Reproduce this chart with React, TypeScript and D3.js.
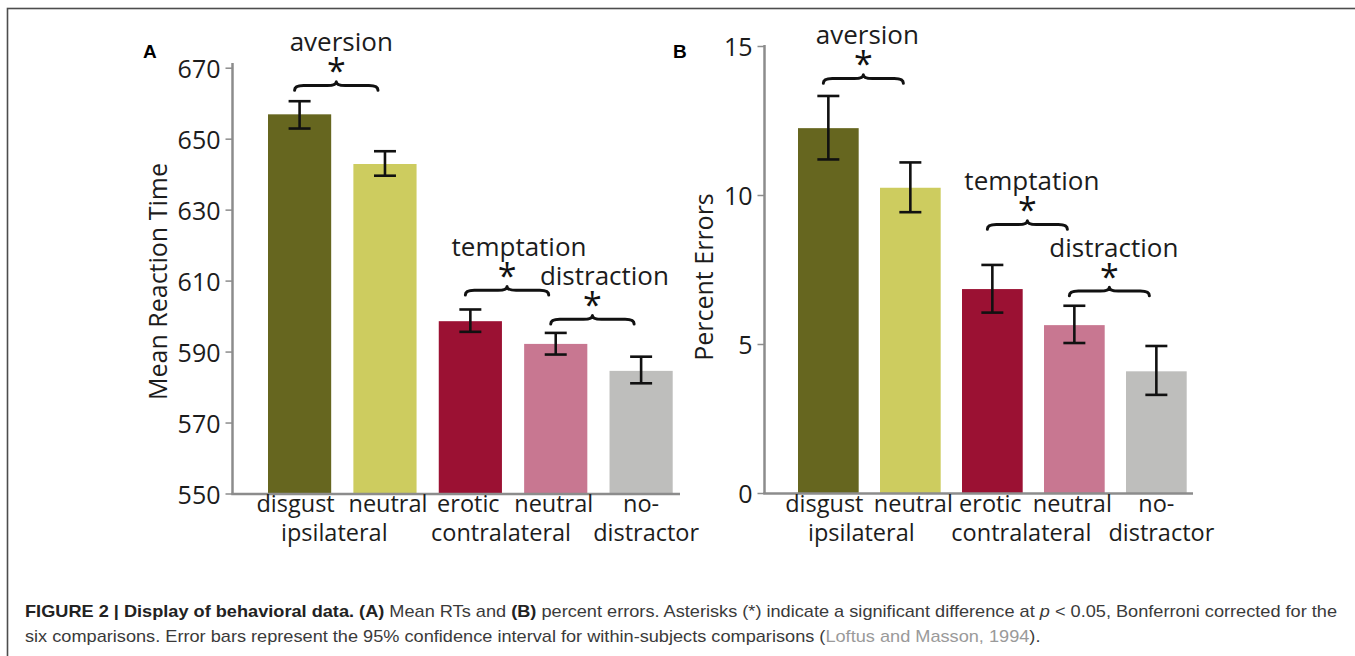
import React, { useLayoutEffect, useRef, useState } from "react";
import * as d3 from "d3";

// ---------- data ----------
const conditionIds = ["disgust-ipsi", "neutral-ipsi", "erotic-contra", "neutral-contra", "no-distractor"];
const categoryLabels = ["disgust", "neutral", "erotic", "neutral", "no-"];
const groupLabels = [
  { label: "ipsilateral", from: 0, to: 1 },
  { label: "contralateral", from: 2, to: 3 },
  { label: "distractor", from: 4, to: 4 },
];
const barColors = ["#66661f", "#cdcc5f", "#9b1133", "#c87791", "#bebebc"];

const rtMeans = [657, 643, 598.7, 592.3, 584.7];
const rtLower = [653, 639.7, 595.7, 589.3, 581.2];
const rtUpper = [660.7, 646.6, 602, 595.4, 588.7];
const rtTicks = [550, 570, 590, 610, 630, 650, 670];
const rtDomain = [550, 670];

const errMeans = [12.26, 10.26, 6.86, 5.65, 4.1];
const errLower = [11.21, 9.44, 6.07, 5.05, 3.31];
const errUpper = [13.34, 11.11, 7.67, 6.3, 4.95];
const errTicks = [0, 5, 10, 15];
const errDomain = [0, 15];

const rtComparisons = [
  { label: "aversion", from: 0, to: 1, at: 663.8 },
  { label: "temptation", from: 2, to: 3, at: 606.1 },
  { label: "distraction", from: 3, to: 4, at: 597.9 },
];
const errComparisons = [
  { label: "aversion", from: 0, to: 1, at: 13.77 },
  { label: "temptation", from: 2, to: 3, at: 8.87 },
  { label: "distraction", from: 3, to: 4, at: 6.64 },
];

// ---------- layout ----------
const FONT = "'Open Sans', 'Noto Sans', sans-serif";
const AXIS_COLOR = "#8c8c8c";
const TEXT_COLOR = "#1c1c1c";
const categoryLabelDx = [-4, 3, -2, -2, 0];
const groupLabelDx = [-8, -12, 5];

type Panel = {
  letter: string;
  letterX: number;
  title: string;
  titleX: number;
  titleY: number;
  means: number[];
  lower: number[];
  upper: number[];
  ticks: number[];
  domain: number[];
  yRange: [number, number];
  xRange: [number, number];
  axisX: number;
  axisXEnd: number;
  axisTop: number;
  labelDx: number[];
  comparisons: { label: string; from: number; to: number; at: number }[];
};

const panels: Panel[] = [
  {
    letter: "A",
    letterX: 143,
    title: "Mean Reaction Time",
    titleX: 167,
    titleY: 281.5,
    means: rtMeans,
    lower: rtLower,
    upper: rtUpper,
    ticks: rtTicks,
    domain: rtDomain,
    yRange: [494, 68.2],
    xRange: [268, 672.7],
    axisX: 232.5,
    axisXEnd: 680,
    axisTop: 63,
    labelDx: [5, 12, 12],
    comparisons: rtComparisons,
  },
  {
    letter: "B",
    letterX: 673,
    title: "Percent Errors",
    titleX: 713,
    titleY: 277,
    means: errMeans,
    lower: errLower,
    upper: errUpper,
    ticks: errTicks,
    domain: errDomain,
    yRange: [493.5, 46.5],
    xRange: [798, 1186.7],
    axisX: 764.5,
    axisXEnd: 1193,
    axisTop: 45,
    labelDx: [4, 4.5, 4.5],
    comparisons: errComparisons,
  },
];

function bracePath(x1: number, x2: number, yEnd: number, h: number) {
  const xm = (x1 + x2) / 2;
  const ym = yEnd - h * 0.55;
  const peak = yEnd - h;
  const q = 9;
  return [
    `M${x1},${yEnd}`,
    `Q${x1},${ym} ${x1 + q},${ym}`,
    `L${xm - q},${ym}`,
    `Q${xm},${ym} ${xm},${peak}`,
    `Q${xm},${ym} ${xm + q},${ym}`,
    `L${x2 - q},${ym}`,
    `Q${x2},${ym} ${x2},${yEnd}`,
  ].join(" ");
}

function ChartPanel({ p }: { p: Panel }) {
  const idx = d3.range(conditionIds.length);
  const x = d3.scaleBand<number>().domain(idx).range(p.xRange).paddingInner(0.26).paddingOuter(0);
  const y = d3.scaleLinear().domain(p.domain).range(p.yRange);
  const bw = x.bandwidth();
  const cx = (i: number) => (x(i) as number) + bw / 2;
  const y0 = y(p.domain[0]);
  return (
    <g>
      <text x={p.letterX} y={57.5} fontFamily="'Liberation Sans', Arial, sans-serif" fontWeight="bold" fontSize={19} fill="#000">
        {p.letter}
      </text>
      {/* bars */}
      {idx.map((i) => (
        <rect key={conditionIds[i]} x={x(i)} y={y(p.means[i])} width={bw} height={y0 - y(p.means[i])} fill={barColors[i]} />
      ))}
      {/* axes */}
      <line x1={p.axisX} x2={p.axisX} y1={p.axisTop} y2={y0} stroke={AXIS_COLOR} strokeWidth={2.5} />
      <line x1={p.axisX - 1.25} x2={p.axisXEnd} y1={y0} y2={y0} stroke={AXIS_COLOR} strokeWidth={2.5} />
      {p.ticks.map((t) => (
        <g key={t}>
          <line x1={p.axisX - 7} x2={p.axisX} y1={y(t)} y2={y(t)} stroke={AXIS_COLOR} strokeWidth={1.5} />
          <text x={p.axisX - 12} y={y(t) + 9.5} textAnchor="end" fontFamily={FONT} fontSize={25} fill={TEXT_COLOR}>
            {t}
          </text>
        </g>
      ))}
      <text
        transform={`translate(${p.titleX},${p.titleY}) rotate(-90)`}
        textAnchor="middle"
        fontFamily={FONT}
        fontSize={25}
        fill={TEXT_COLOR}
      >
        {p.title}
      </text>
      {/* error bars */}
      {idx.map((i) => {
        const c = cx(i);
        const yt = y(p.upper[i]);
        const yb = y(p.lower[i]);
        return (
          <g key={"e" + i} stroke="#111" strokeWidth={2.6} fill="none">
            <line x1={c} x2={c} y1={yt} y2={yb} />
            <line x1={c - 11} x2={c + 11} y1={yt} y2={yt} />
            <line x1={c - 11} x2={c + 11} y1={yb} y2={yb} />
          </g>
        );
      })}
      {/* category labels */}
      {idx.map((i) => (
        <text
          key={"c" + i}
          x={cx(i) + categoryLabelDx[i]}
          y={512}
          textAnchor="middle"
          fontFamily={FONT}
          fontSize={23.5}
          fill={TEXT_COLOR}
        >
          {categoryLabels[i]}
        </text>
      ))}
      {groupLabels.map((g, gi) => {
        const c = (cx(g.from) + cx(g.to)) / 2 + groupLabelDx[gi];
        return (
          <text key={g.label} x={c} y={541} textAnchor="middle" fontFamily={FONT} fontSize={23.5} fill={TEXT_COLOR}>
            {g.label}
          </text>
        );
      })}
      {/* significance annotations */}
      {p.comparisons.map((cmp, ci) => {
        const x1 = cx(cmp.from) - 5;
        const x2 = cx(cmp.to) - 7;
        const ye = y(cmp.at);
        const xm = (x1 + x2) / 2;
        return (
          <g key={cmp.label}>
            <path d={bracePath(x1, x2, ye, 8.5)} fill="none" stroke="#111" strokeWidth={3} strokeLinecap="round" strokeLinejoin="round" />
            <text x={xm} y={ye - 7} textAnchor="middle" fontFamily={FONT} fontSize={34} fill="#111">
              *
            </text>
            <text x={xm + p.labelDx[ci]} y={ye - 39} textAnchor="middle" fontFamily={FONT} fontSize={26} fill={TEXT_COLOR}>
              {cmp.label}
            </text>
          </g>
        );
      })}
    </g>
  );
}

function Caption() {
  const ref = useRef<SVGTextElement>(null);
  const [k, setK] = useState(1);
  useLayoutEffect(() => {
    const el = ref.current;
    if (el) {
      const w = el.getBBox().width;
      if (w > 0) setK(1313 / w);
    }
  }, []);
  const cf = "'Liberation Sans', Arial, Helvetica, sans-serif";
  return (
    <g transform={`translate(25,0) scale(${k},1)`} fontFamily={cf} fontSize={16} fill="#3a3a3a">
      <text ref={ref} x={0} y={617}>
        <tspan fontWeight="bold" fill="#222">FIGURE 2 | Display of behavioral data.</tspan>
        <tspan> </tspan>
        <tspan fontWeight="bold" fill="#222">(A)</tspan>
        <tspan> Mean RTs and </tspan>
        <tspan fontWeight="bold" fill="#222">(B)</tspan>
        <tspan> percent errors. Asterisks (*) indicate a significant difference at </tspan>
        <tspan fontStyle="italic">p</tspan>
        <tspan> {"<"} 0.05, Bonferroni corrected for the</tspan>
      </text>
      <text x={0} y={642}>
        <tspan>six comparisons. Error bars represent the 95% confidence interval for within-subjects comparisons (</tspan>
        <tspan fill="#9a9a9a">Loftus and Masson, 1994</tspan>
        <tspan>).</tspan>
      </text>
    </g>
  );
}

export default function App() {
  return (
    <svg width={1355} height={656} style={{ position: "absolute", left: 0, top: 0, background: "#fff" }}>
      <rect x={0} y={0} width={1355} height={656} fill="#fff" />
      <rect x={7.5} y={8.5} width={2000} height={2000} fill="none" stroke="#4d4d4d" strokeWidth={1.6} />
      {panels.map((p) => (
        <ChartPanel key={p.letter} p={p} />
      ))}
      <Caption />
    </svg>
  );
}
